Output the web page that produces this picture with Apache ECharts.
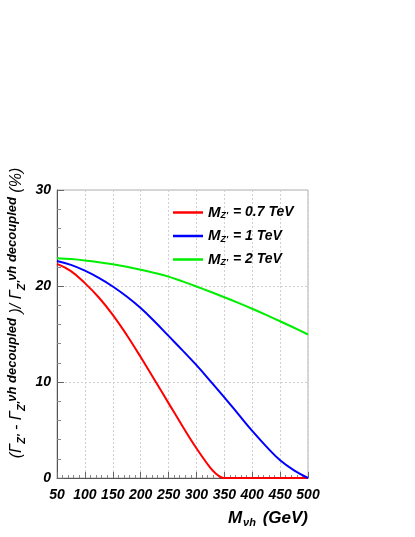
<!DOCTYPE html>
<html>
<head>
<meta charset="utf-8">
<script src="https://cdn.jsdelivr.net/npm/echarts@6/dist/echarts.min.js"></script>
<style>html,body{margin:0;padding:0;background:#fff}#c{width:415px;height:537px}</style>
</head>
<body>
<div id="c"></div>
<script>
var xCommon = [50,75,100,125,150,175,200,225,250,275,300,325,350,375,400,425,450,475,500];
var redX = [50,75,100,125,150,175,200,225,250,275,300,325,335,345,350,400,450,500];
var redY = [22.3,21.55,20.3,18.8,17.0,14.9,12.6,10.2,7.8,5.4,3.1,1.05,0.45,0.05,0,0,0,0];
var blueY = [22.6,22.2,21.6,20.85,19.95,18.9,17.7,16.3,14.8,13.3,11.75,10.1,8.4,6.65,4.9,3.3,1.85,0.8,0];
var greenY = [22.9,22.8,22.66,22.48,22.26,22.0,21.7,21.36,20.98,20.48,19.95,19.4,18.83,18.24,17.63,16.99,16.33,15.65,14.95];
var seriesNames = ["MZ' = 0.7 TeV","MZ' = 1 TeV","MZ' = 2 TeV"];
var legendMass = ["0.7","1","2"];
var xTicks = [50,500,50];
var yTicks = [0,30,10];

function pairs(xs, ys){ return xs.map(function(x,i){ return [x, ys[i]]; }); }

var font = 'Liberation Sans, Arial, Helvetica, sans-serif';
var chart = echarts.init(document.getElementById('c'), null, {renderer:'canvas'});
var mkSeries = function(name, data, color){
  return {type:'line', name:name, data:data, showSymbol:false, smooth:0.4,
    lineStyle:{color:color, width:2, join:'round'}, itemStyle:{color:color}, z:3, animation:false};
};
chart.setOption({
  animation:false,
  backgroundColor:'#fff',
  grid:{left:57, right:107, top:190, bottom:59, show:true, borderColor:'#b0b0b0', borderWidth:1,
        containLabel:false, outerBoundsMode:'none'},
  legend:{
    orient:'vertical', left:168, top:200, itemWidth:30, itemHeight:14, itemGap:5,
    data: seriesNames.map(function(n){ return {name:n, icon:'path://M0,6 L30,6 L30,8.5 L0,8.5 Z'}; }),
    formatter:function(name){
      var i = seriesNames.indexOf(name);
      return '{m|M}{s|Z\'}{t| = ' + legendMass[i] + ' TeV}';
    },
    textStyle:{
      rich:{
        m:{fontFamily:font, fontSize:15, fontWeight:'bold', fontStyle:'italic', color:'#000', verticalAlign:'middle', lineHeight:22},
        s:{fontFamily:font, fontSize:9, fontWeight:'bold', fontStyle:'italic', color:'#000', verticalAlign:'bottom', lineHeight:9, padding:[0,1,3,0]},
        t:{fontFamily:font, fontSize:14, fontWeight:'bold', fontStyle:'italic', color:'#000', verticalAlign:'middle', lineHeight:22}
      }
    }
  },
  xAxis:{
    type:'value', min:xTicks[0], max:xTicks[1], interval:xTicks[2],
    axisLine:{show:true, lineStyle:{color:'#555', width:1}},
    axisTick:{show:true, inside:true, length:6, lineStyle:{color:'#666'}},
    minorTick:{show:true, splitNumber:5, length:3, lineStyle:{color:'#888'}},
    splitLine:{show:true, lineStyle:{color:'#d0d0d0', type:[2,2], width:1}},
    axisLabel:{margin:10, color:'#000', fontFamily:font, fontSize:14, fontWeight:'bold', fontStyle:'italic', showMinLabel:true, showMaxLabel:true, hideOverlap:false},
    name:'{m|M}{s|νh}{t| (GeV)}', nameLocation:'end', nameGap:0, nameMoveOverlap:false,
    nameTextStyle:{align:'right', verticalAlign:'top', padding:[28,0,0,0],
      rich:{
        m:{fontFamily:font, fontSize:17, fontWeight:'bold', fontStyle:'italic', color:'#000', verticalAlign:'middle', lineHeight:24},
        s:{fontFamily:font, fontSize:11, fontWeight:'bold', fontStyle:'italic', color:'#000', verticalAlign:'bottom', lineHeight:11, padding:[0,2,2,1]},
        t:{fontFamily:font, fontSize:17, fontWeight:'bold', fontStyle:'italic', color:'#000', verticalAlign:'middle', lineHeight:24}
      }}
  },
  yAxis:{
    type:'value', min:yTicks[0], max:yTicks[1], interval:yTicks[2],
    axisLine:{show:true, lineStyle:{color:'#555', width:1}},
    axisTick:{show:true, inside:true, length:7, lineStyle:{color:'#666'}},
    minorTick:{show:true, splitNumber:5, length:4, lineStyle:{color:'#888'}},
    splitLine:{show:true, lineStyle:{color:'#d0d0d0', type:[2,2], width:1}},
    axisLabel:{margin:6, color:'#000', fontFamily:font, fontSize:14, fontWeight:'bold', fontStyle:'italic', padding:[6,0,0,0]},
    name:'{p|(Γ}{s|Z\'}{p| - Γ}{s|Z\'}{u|νh decoupled}{p| )/ Γ}{s|Z\'}{u|νh decoupled}{p| (%)}',
    nameLocation:'middle', nameRotate:90, nameGap:27, nameMoveOverlap:false,
    nameTextStyle:{padding:[0,0,0,42],
      rich:{
        p:{fontFamily:font, fontSize:16, fontStyle:'italic', color:'#000', verticalAlign:'middle', lineHeight:26},
        s:{fontFamily:font, fontSize:11, fontWeight:'bold', fontStyle:'italic', color:'#000', verticalAlign:'bottom', lineHeight:11, padding:[0,0,3,0]},
        u:{fontFamily:font, fontSize:13, fontWeight:'bold', fontStyle:'italic', color:'#000', verticalAlign:'top', lineHeight:13, padding:[2,0,0,0]}
      }}
  },
  series:[
    mkSeries(seriesNames[0], pairs(redX, redY), '#ff0000'),
    mkSeries(seriesNames[1], pairs(xCommon, blueY), '#0000ff'),
    mkSeries(seriesNames[2], pairs(xCommon, greenY), '#00ee00')
  ]
});
</script>
</body>
</html>
